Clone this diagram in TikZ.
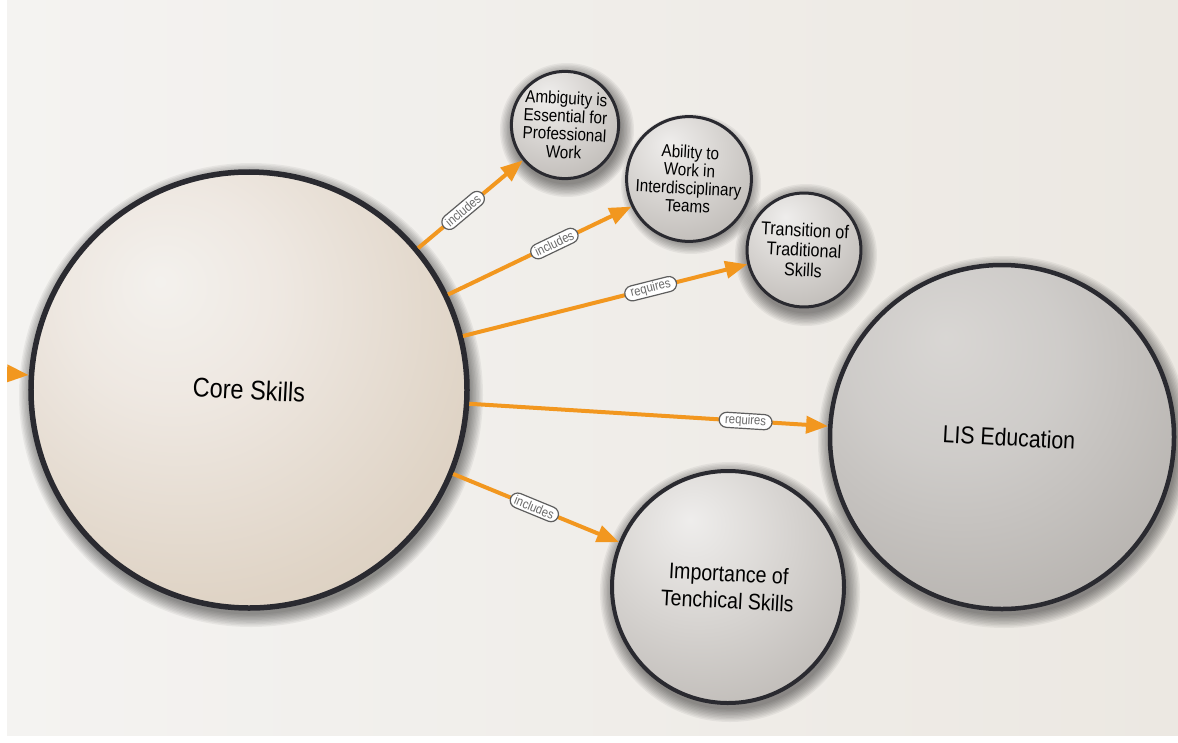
\documentclass[tikz,border=0pt]{standalone}
\usepackage{fontspec}
\setmainfont{Liberation Sans}[FakeStretch=0.87]
\usetikzlibrary{arrows.meta,shapes.misc}

\definecolor{ink}{HTML}{2A2A30}
\definecolor{orangeA}{HTML}{F2971F}
\definecolor{lblgray}{HTML}{5E5E5E}
\definecolor{lbltext}{HTML}{6A6A6A}
\definecolor{paperL}{HTML}{F4F3F1}
\definecolor{paperR}{HTML}{ECE8E2}

\pgfdeclareradialshading{coresh}{\pgfpoint{-10bp}{12bp}}{rgb(0bp)=(0.955,0.945,0.93); rgb(12bp)=(0.935,0.91,0.885); rgb(32bp)=(0.875,0.83,0.775); rgb(55bp)=(0.83,0.77,0.70); rgb(90bp)=(0.83,0.77,0.70)}
\pgfdeclareradialshading{graysh}{\pgfpoint{-8bp}{14bp}}{rgb(0bp)=(0.935,0.93,0.925); rgb(12bp)=(0.88,0.87,0.86); rgb(35bp)=(0.76,0.745,0.73); rgb(55bp)=(0.66,0.645,0.63); rgb(90bp)=(0.66,0.645,0.63)}
\pgfdeclareradialshading{lissh}{\pgfpoint{-8bp}{14bp}}{rgb(0bp)=(0.85,0.84,0.83); rgb(15bp)=(0.81,0.80,0.79); rgb(38bp)=(0.71,0.695,0.68); rgb(55bp)=(0.64,0.625,0.61); rgb(90bp)=(0.64,0.625,0.61)}

\tikzset{
  ball/.style={circle, inner sep=0pt, align=center, draw=ink, text=black, rotate=-3},
  arr/.style={draw=orangeA, line width=4pt, -{Triangle[length=22pt,width=17pt]}},
  lbl/.style={rounded rectangle, fill=white, draw=lblgray, line width=1.2pt, text=lbltext,
    font=\fontsize{13}{13}\selectfont, inner xsep=3pt, inner ysep=1.5pt, minimum height=15pt, sloped}
}

\begin{document}
\begin{tikzpicture}[x=1pt,y=-1pt]
\useasboundingbox (0,0) rectangle (1178,742);
\fill[white] (0,0) rectangle (1178,742);
\begin{scope}
\clip (7,0) rectangle (1178,735);
\shade[left color=paperL, right color=paperR] (7,0) rectangle (1178,735);

% shadows
\foreach \cx/\cy/\r in {249/390/218, 565/125/53, 689/179/56, 804/250/57, 728/587/116, 1002/437/172}{
  \foreach \i in {1,...,10}
    \fill[black,opacity=0.05] (\cx+2,\cy+5) circle[radius={(\r+\i*1.4)*1pt}];
}

% nodes
\node[ball, shading=coresh, minimum size=436pt, line width=5.5pt,
  font=\fontsize{27}{30}\selectfont] (core) at (249,390) {Core Skills};
\node[ball, shading=graysh, minimum size=106pt, line width=3pt,
  font=\fontsize{17.5}{18}\selectfont] (amb) at (565,125) {Ambiguity is\\Essential for\\Professional\\Work};
\node[ball, shading=graysh, minimum size=112pt, line width=3pt,
  font=\fontsize{17.5}{18}\selectfont] (abil) at (689,179) {Ability to\\Work in\\Interdisciplinary\\Teams};
\node[ball, shading=graysh, minimum size=114pt, line width=3pt,
  font=\fontsize{18.5}{20}\selectfont] (trans) at (804,250) {Transition of\\Traditional\\Skills};
\node[ball, shading=graysh, minimum size=232pt, line width=4pt,
  font=\fontsize{22.5}{27}\selectfont] (imp) at (728,587) {Importance of\\Tenchical Skills};
\node[ball, shading=lissh, minimum size=344pt, line width=4.5pt,
  font=\fontsize{24.5}{27}\selectfont] (lis) at (1002,437) {\hspace*{14pt}LIS Education};

% connectors
\coordinate (lin) at (-30,371);
\draw[arr] (lin) -- (core);
\draw[arr] (core) -- (amb) node[lbl, pos=0.43] {includes};
\draw[arr] (core) -- (abil) node[lbl, pos=0.58] {includes};
\draw[arr] (core) -- (trans) node[lbl, pos=0.66] {requires};
\draw[arr] (core) -- (lis) node[lbl, pos=0.77] {requires};
\draw[arr] (core) -- (imp) node[lbl, pos=0.49] {includes};
\end{scope}
\end{tikzpicture}
\end{document}
